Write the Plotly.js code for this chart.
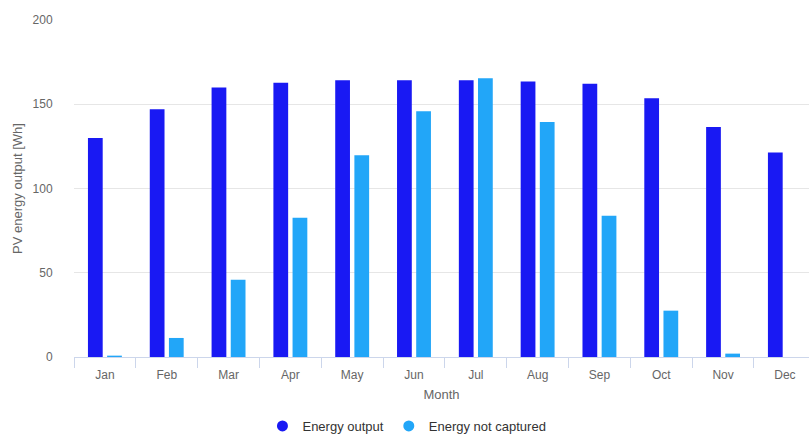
<!DOCTYPE html>
<html>
<head>
<meta charset="utf-8">
<script src="https://cdn.plot.ly/plotly-3.0.1.min.js"></script>
<style>
  html, body { margin: 0; padding: 0; background: #ffffff; }
  #chart { width: 809px; height: 441px; }
</style>
</head>
<body>
<div id="chart"></div>
<script>
const months = ["Jan", "Feb", "Mar", "Apr", "May", "Jun", "Jul", "Aug", "Sep", "Oct", "Nov", "Dec"];
const energyOutput = [130, 147, 160, 162.7, 164.3, 164.3, 164.2, 163.5, 162.1, 153.6, 136.5, 121.3];
const energyNotCaptured = [0.8, 11.3, 45.8, 82.6, 119.7, 145.8, 165.5, 139.5, 83.8, 27.5, 2, 0];
const seriesNames = ["Energy output", "Energy not captured"];
const seriesColors = ["#1919f3", "#22a6f8"];

const traces = [
  { type: "bar", x: months, y: energyOutput, name: seriesNames[0],
    marker: { color: seriesColors[0] }, showlegend: false, hoverinfo: "x+y" },
  { type: "bar", x: months, y: energyNotCaptured, name: seriesNames[1],
    marker: { color: seriesColors[1] }, showlegend: false, hoverinfo: "x+y" },
  { type: "scatter", mode: "markers", x: [null], y: [null], name: seriesNames[0],
    marker: { color: seriesColors[0], size: 11, symbol: "circle" }, showlegend: true },
  { type: "scatter", mode: "markers", x: [null], y: [null], name: seriesNames[1],
    marker: { color: seriesColors[1], size: 11, symbol: "circle" }, showlegend: true }
];

const layout = {
  width: 809, height: 441,
  margin: { l: 74, r: 0, t: 20, b: 82, pad: 0 },
  paper_bgcolor: "#ffffff", plot_bgcolor: "#ffffff",
  font: { family: "Liberation Sans, Arial, sans-serif", color: "#666666", size: 12 },
  barmode: "group", bargap: 0.38, bargroupgap: 0.23,
  xaxis: {
    type: "category",
    range: [-0.5, 11.39],
    showline: true, linecolor: "#ccd6eb", linewidth: 1,
    ticks: "outside", tickson: "boundaries", ticklen: 10, tickcolor: "#ccd6eb",
    ticklabelstandoff: 7,
    tickfont: { size: 12, color: "#666666" },
    showgrid: false, zeroline: false, automargin: false,
    title: { text: "Month", font: { size: 13, color: "#666666" }, standoff: 8 }
  },
  yaxis: {
    range: [0, 200],
    tickvals: [0, 50, 100, 150, 200],
    showgrid: true, gridcolor: "#e6e6e6", gridwidth: 1,
    zeroline: false, showline: false,
    ticks: "outside", ticklen: 18, tickcolor: "rgba(0,0,0,0)",
    tickfont: { size: 12, color: "#666666" },
    automargin: false,
    title: { text: "PV energy output [Wh]", font: { size: 13, color: "#666666" }, standoff: 7 }
  },
  showlegend: true,
  legend: {
    orientation: "h", x: 0.453, xanchor: "center", y: -0.205, yanchor: "middle",
    font: { size: 13, color: "#333333" }, itemclick: false, itemdoubleclick: false,
    traceorder: "normal"
  }
};

Plotly.newPlot("chart", traces, layout, { displayModeBar: false, staticPlot: true });
</script>
</body>
</html>
